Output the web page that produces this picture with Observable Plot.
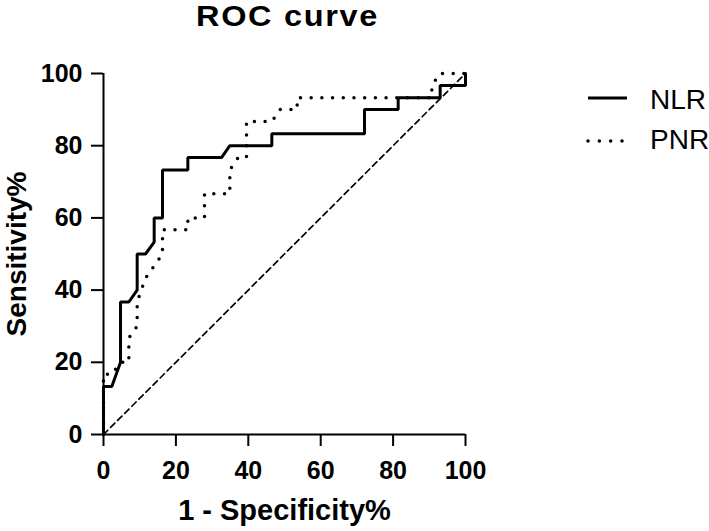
<!DOCTYPE html>
<html>
<head>
<meta charset="utf-8">
<script src="https://cdn.jsdelivr.net/npm/d3@7"></script>
<script src="https://cdn.jsdelivr.net/npm/@observablehq/plot@0.6"></script>
<style>
  html, body { margin: 0; padding: 0; background: #fff; }
  #wrap { position: relative; width: 709px; height: 531px; overflow: hidden; background: #fff; }
  #title { position: absolute; left: 196px; top: 2px; font: bold 29px "Liberation Sans", Arial, sans-serif; line-height: 29px; letter-spacing: 1.5px; transform: scaleX(1.12); transform-origin: left center; color: #000; white-space: nowrap; }
  .leg { position: absolute; left: 650px; font: 28px "Liberation Sans", Arial, sans-serif; line-height: 28px; color: #000; white-space: nowrap; }
  #legsw { position: absolute; left: 580px; top: 85px; }
</style>
</head>
<body>
<div id="wrap">
  <div id="chart"></div>
  <div id="title">ROC curve</div>
  <svg id="legsw" width="60" height="70">
    <line x1="8" y1="13" x2="47" y2="13" stroke="#000" stroke-width="3"></line>
    <line x1="8" y1="56" x2="43" y2="56" stroke="#000" stroke-width="3.5" stroke-linecap="round" stroke-dasharray="0,11.33"></line>
  </svg>
  <div class="leg" style="top:86px">NLR</div>
  <div class="leg" style="top:126px">PNR</div>
</div>
<script>
const seriesNames = ["NLR", "PNR"];
const nlrX = [0, 0, 2.3, 4.7, 4.7, 7.0, 9.3, 9.3, 11.6, 14.0, 14.0, 16.3, 16.3, 23.3, 23.3, 32.6, 34.9, 46.5, 46.5, 72.1, 72.1, 81.4, 81.4, 93.0, 93.0, 100, 100];
const nlrY = [0, 13.3, 13.3, 20, 36.7, 36.7, 40, 50, 50, 53.3, 60, 60, 73.3, 73.3, 76.7, 76.7, 80, 80, 83.3, 83.3, 90, 90, 93.3, 93.3, 96.7, 96.7, 100];
const pnrX = [0, 0, 2.3, 4.7, 7.0, 7.0, 9.3, 9.3, 11.6, 14.0, 16.3, 16.3, 23.3, 23.3, 27.9, 27.9, 34.9, 34.9, 37.2, 39.5, 39.5, 46.5, 48.8, 53.5, 53.5, 90.7, 90.7, 93.0, 100];
const pnrY = [0, 16.7, 16.7, 20, 20, 26.7, 30, 36.7, 43.3, 46.7, 50, 56.7, 56.7, 60, 60, 66.7, 66.7, 73.3, 76.7, 76.7, 86.7, 86.7, 90, 90, 93.3, 93.3, 96.7, 100, 100];
const refX = [0, 100];
const refY = [0, 100];
const xTicks = [0, 20, 40, 60, 80, 100];
const yTicks = [0, 20, 40, 60, 80, 100];
const xLabel = "1 - Specificity%";
const yLabel = "Sensitivity%";

const nlr = nlrX.map((x, i) => ({x, y: nlrY[i]}));
const pnr = pnrX.map((x, i) => ({x, y: pnrY[i]}));
const ref = refX.map((x, i) => ({x, y: refY[i]}));

const font = "Liberation Sans, Arial, sans-serif";

const chart = Plot.plot({
  width: 709,
  height: 531,
  marginLeft: 103,
  marginRight: 244,
  marginTop: 73,
  marginBottom: 97,
  x: {domain: [0, 100]},
  y: {domain: [0, 100]},
  style: {fontFamily: font, fontWeight: "bold", background: "transparent", color: "#000", overflow: "visible"},
  marks: [
    Plot.line(ref, {x: "x", y: "y", stroke: "#000", strokeWidth: 1.7, strokeDasharray: "6,4"}),
    Plot.line(pnr, {x: "x", y: "y", stroke: "#000", strokeWidth: 3.5, strokeLinecap: "round", strokeDasharray: "0,10.7"}),
    Plot.line(nlr, {x: "x", y: "y", stroke: "#000", strokeWidth: 3, strokeLinejoin: "miter"}),
    Plot.axisX({ticks: xTicks, tickSize: 12, tickPadding: 15, fontSize: 25, fontWeight: "bold", strokeWidth: 2, label: null, tickFormat: d => String(d)}),
    Plot.axisY({ticks: yTicks, tickSize: 12, tickPadding: 9, fontSize: 25, fontWeight: "bold", strokeWidth: 2, label: null, tickFormat: d => String(d)}),
    Plot.ruleY([0], {strokeWidth: 2, stroke: "#000"}),
    Plot.ruleX([0], {strokeWidth: 2, stroke: "#000"}),
    Plot.text([xLabel], {frameAnchor: "bottom", text: d => d, dy: 76, textAnchor: "middle", lineAnchor: "middle", fontSize: 29, fontWeight: "bold", fill: "#000"}),
    Plot.text([yLabel], {frameAnchor: "left", text: d => d, dx: -86, rotate: -90, textAnchor: "middle", lineAnchor: "middle", fontSize: 28, fontWeight: "bold", fill: "#000"})
  ]
});
document.getElementById("chart").appendChild(chart);
</script>
</body>
</html>
